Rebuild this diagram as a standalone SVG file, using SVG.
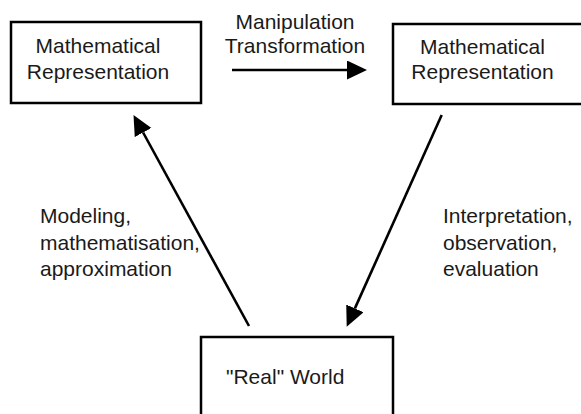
<svg xmlns="http://www.w3.org/2000/svg" width="581" height="414" viewBox="0 0 581 414">
<defs>
<style>
.box{fill:#fff;stroke:#000;stroke-width:2.5}
.t{font-family:"Liberation Sans",Arial,sans-serif;font-size:21px;fill:#1a1a1a}
.c{text-anchor:middle}
.ln{stroke:#000;stroke-width:2.6;fill:none}
</style>
<marker id="ah" markerUnits="userSpaceOnUse" markerWidth="21" markerHeight="20" refX="0" refY="9.5" orient="auto" viewBox="0 0 21 20">
<path d="M0,0 L20,9.5 L0,19 Z" fill="#000"/>
</marker>
</defs>
<rect width="581" height="414" fill="#fff"/>
<g id="connectors">
<line class="ln" x1="232" y1="70" x2="347" y2="70" marker-end="url(#ah)"/>
<line class="ln" x1="249" y1="326" x2="143.1" y2="132.5" marker-end="url(#ah)"/>
<line class="ln" x1="441.7" y1="115" x2="354.9" y2="308.4" marker-end="url(#ah)"/>
</g>
<g id="math1">
<rect class="box" x="11" y="22" width="190" height="81"/>
<text class="t c" x="98" y="53.3">Mathematical</text>
<text class="t c" x="98" y="78.5">Representation</text>
</g>
<g id="math2">
<rect class="box" x="393" y="24" width="200" height="80"/>
<text class="t c" x="482.5" y="54">Mathematical</text>
<text class="t c" x="482.5" y="78.5">Representation</text>
</g>
<g id="real">
<rect class="box" x="201" y="337" width="192" height="90"/>
<text class="t" x="226" y="383.5">"Real" World</text>
</g>
<g id="label-top">
<text class="t c" x="295" y="29">Manipulation</text>
<text class="t c" x="295" y="52.5">Transformation</text>
</g>
<g id="label-left">
<text class="t" x="40" y="223">Modeling,</text>
<text class="t" x="40" y="249.5">mathematisation,</text>
<text class="t" x="40" y="276">approximation</text>
</g>
<g id="label-right">
<text class="t" x="443" y="223">Interpretation,</text>
<text class="t" x="443" y="249.5">observation,</text>
<text class="t" x="443" y="276">evaluation</text>
</g>
</svg>
